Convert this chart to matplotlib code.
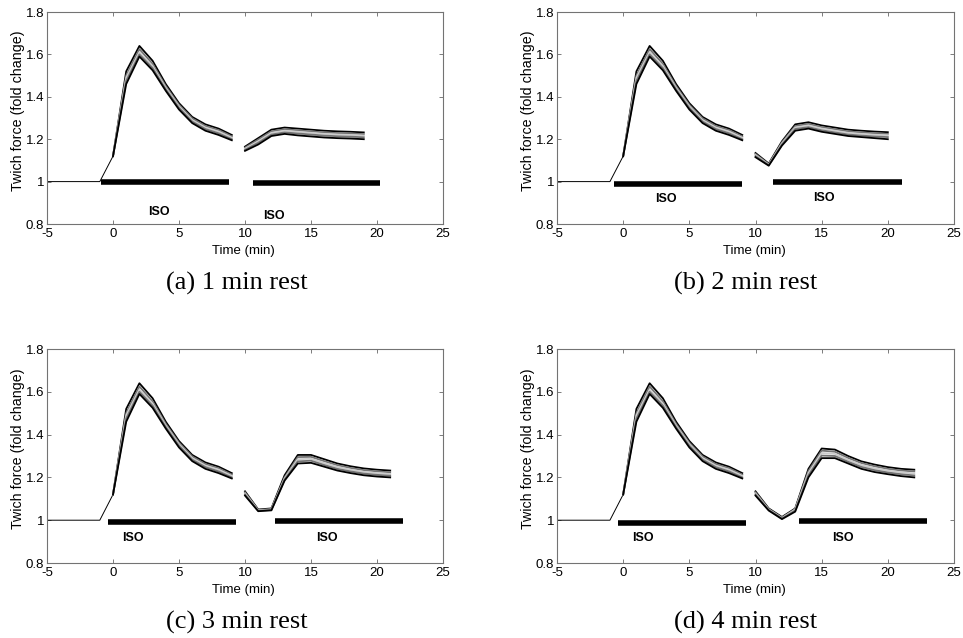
import matplotlib
matplotlib.use('Agg')
import matplotlib.pyplot as plt

# --- data ---
t_pre = [-5, -1, 0]
f_pre = [1.0, 1.0, 1.12]

# first ISO exposure, identical in every panel (5 traces, top to bottom)
t_first = [0, 1, 2, 3, 4, 5, 6, 7, 8, 9]
f_first = [
    [1.12, 1.52, 1.64, 1.57, 1.46, 1.37, 1.305, 1.27, 1.25, 1.22],
    [1.12, 1.50, 1.625, 1.555, 1.45, 1.362, 1.298, 1.262, 1.243, 1.213],
    [1.12, 1.49, 1.61, 1.545, 1.442, 1.355, 1.29, 1.255, 1.236, 1.207],
    [1.12, 1.475, 1.60, 1.535, 1.435, 1.348, 1.283, 1.248, 1.228, 1.20],
    [1.12, 1.46, 1.59, 1.525, 1.428, 1.34, 1.276, 1.24, 1.22, 1.195],
]

# second ISO exposure after 1, 2, 3, 4 min rest
t_second_a = [10, 11, 12, 13, 14, 15, 16, 17, 18, 19]
f_second_a = [
    [1.165, 1.205, 1.245, 1.255, 1.25, 1.245, 1.24, 1.237, 1.235, 1.232],
    [1.16, 1.198, 1.237, 1.247, 1.242, 1.237, 1.232, 1.229, 1.227, 1.224],
    [1.155, 1.19, 1.23, 1.24, 1.235, 1.23, 1.225, 1.222, 1.22, 1.217],
    [1.15, 1.183, 1.222, 1.232, 1.227, 1.222, 1.217, 1.214, 1.212, 1.209],
    [1.145, 1.175, 1.215, 1.225, 1.218, 1.213, 1.208, 1.205, 1.203, 1.20],
]
t_second_b = [10, 11, 12, 13, 14, 15, 16, 17, 18, 19, 20]
f_second_b = [
    [1.135, 1.085, 1.19, 1.27, 1.28, 1.265, 1.255, 1.245, 1.24, 1.236, 1.233],
    [1.13, 1.082, 1.185, 1.262, 1.272, 1.257, 1.247, 1.237, 1.232, 1.228, 1.225],
    [1.125, 1.08, 1.18, 1.255, 1.265, 1.25, 1.24, 1.23, 1.225, 1.221, 1.218],
    [1.12, 1.078, 1.175, 1.248, 1.257, 1.242, 1.232, 1.222, 1.217, 1.213, 1.21],
    [1.115, 1.075, 1.17, 1.24, 1.25, 1.235, 1.225, 1.215, 1.21, 1.205, 1.20],
]
t_second_c = [10, 11, 12, 13, 14, 15, 16, 17, 18, 19, 20, 21]
f_second_c = [
    [1.135, 1.05, 1.055, 1.21, 1.305, 1.305, 1.285, 1.265, 1.252, 1.242, 1.236, 1.232],
    [1.13, 1.048, 1.052, 1.20, 1.295, 1.296, 1.276, 1.257, 1.244, 1.234, 1.228, 1.224],
    [1.125, 1.046, 1.05, 1.195, 1.285, 1.287, 1.267, 1.249, 1.236, 1.226, 1.22, 1.216],
    [1.12, 1.044, 1.048, 1.19, 1.275, 1.278, 1.258, 1.24, 1.228, 1.218, 1.212, 1.208],
    [1.115, 1.042, 1.046, 1.185, 1.265, 1.268, 1.25, 1.232, 1.22, 1.21, 1.204, 1.20],
]
t_second_d = [10, 11, 12, 13, 14, 15, 16, 17, 18, 19, 20, 21, 22]
f_second_d = [
    [1.135, 1.055, 1.015, 1.055, 1.24, 1.335, 1.33, 1.30, 1.275, 1.26, 1.248, 1.24, 1.236],
    [1.13, 1.052, 1.012, 1.052, 1.23, 1.325, 1.32, 1.291, 1.267, 1.252, 1.24, 1.232, 1.228],
    [1.125, 1.05, 1.01, 1.05, 1.22, 1.314, 1.31, 1.282, 1.258, 1.243, 1.232, 1.224, 1.218],
    [1.12, 1.048, 1.008, 1.045, 1.21, 1.302, 1.30, 1.273, 1.249, 1.234, 1.223, 1.215, 1.209],
    [1.115, 1.045, 1.005, 1.04, 1.20, 1.29, 1.29, 1.265, 1.24, 1.225, 1.215, 1.206, 1.20],
]

# ISO application bars: (start, end, y) and label positions (x, y)
iso_bars = [
    [(-0.9, 8.8, 0.997), (10.6, 20.25, 0.993)],
    [(-0.7, 8.95, 0.989), (11.3, 21.05, 0.996)],
    [(-0.4, 9.35, 0.990), (12.3, 22.0, 0.994)],
    [(-0.4, 9.3, 0.987), (13.3, 22.95, 0.994)],
]
iso_labels = [
    [(3.5, 0.856), (12.2, 0.837)],
    [(3.2, 0.918), (15.2, 0.921)],
    [(1.5, 0.917), (16.2, 0.918)],
    [(1.5, 0.917), (16.6, 0.917)],
]
captions = ['(a) 1 min rest', '(b) 2 min rest', '(c) 3 min rest', '(d) 4 min rest']
second = [(t_second_a, f_second_a), (t_second_b, f_second_b),
          (t_second_c, f_second_c), (t_second_d, f_second_d)]

trace_colors = ['black', '0.45', '0.8', '0.45', 'black']
xticks = [-5, 0, 5, 10, 15, 20, 25]
yticks = [0.8, 1.0, 1.2, 1.4, 1.6, 1.8]
ytick_labels = ['0.8', '1', '1.2', '1.4', '1.6', '1.8']

plt.rcParams['font.family'] = ['Liberation Sans', 'DejaVu Sans']
plt.rcParams['axes.unicode_minus'] = False
fig = plt.figure(figsize=(9.63, 6.38), dpi=100)

# axes boxes in pixels: left, top, right, bottom
boxes = [(47, 12, 443, 224), (557, 12, 954, 224),
         (47, 349, 443, 563), (557, 349, 954, 563)]
caption_pos = [(237, 283), (746, 283), (237, 622), (746, 622)]
W, H = 963, 638

for i in range(4):
    l, t, r, b = boxes[i]
    ax = fig.add_axes([l / W, 1 - b / H, (r - l) / W, (b - t) / H])
    ax.plot(t_pre, f_pre, color='black', lw=0.7)
    for k, col in enumerate(trace_colors):
        ax.plot(t_first, f_first[k], color=col, lw=1.3)
    ts, fs = second[i]
    for k, col in enumerate(trace_colors):
        ax.plot(ts, fs[k], color=col, lw=1.3)
    for x0, x1, y in iso_bars[i]:
        ax.plot([x0, x1], [y, y], color='black', lw=4, solid_capstyle='butt')
    for x, y in iso_labels[i]:
        ax.text(x, y, 'ISO', ha='center', va='center', fontsize=9, fontweight='bold')

    ax.set_xlim(-5, 25)
    ax.set_ylim(0.8, 1.8)
    ax.set_xticks(xticks)
    ax.set_yticks(yticks)
    ax.set_yticklabels(ytick_labels)
    ax.tick_params(direction='in', top=True, right=True, length=3, width=0.6,
                   color='0.4', labelsize=9.5, pad=2)
    ax.tick_params(axis='x', pad=3)
    for spine in ax.spines.values():
        spine.set_color('0.45')
        spine.set_linewidth(0.8)
    ax.set_xlabel('Time (min)', fontsize=9.5, va='center')
    ax.set_ylabel('Twich force (fold change)', fontsize=10.3, va='center')
    ax.xaxis.set_label_coords(0.497, -27 / (b - t))
    ax.yaxis.set_label_coords(-29 / (r - l), 0.535)

    cx, cy = caption_pos[i]
    fig.text(cx / W, 1 - cy / H, captions[i], ha='center', va='center',
             fontsize=19, family='Liberation Serif')

plt.savefig('out.png', dpi=100)
